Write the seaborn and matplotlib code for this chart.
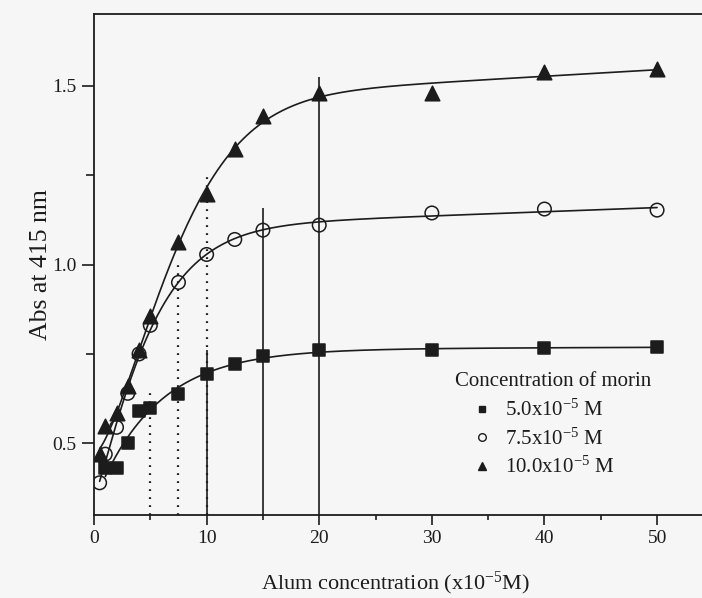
import numpy as np
import pandas as pd
import matplotlib
matplotlib.use("Agg")
import matplotlib.pyplot as plt
from matplotlib.lines import Line2D
import seaborn as sns

# Absorbance at 415 nm versus alum concentration (x10^-5 M)
alum_5 = [1, 2, 3, 4, 5, 7.5, 10, 12.5, 15, 20, 30, 40, 50]
abs_5 = [0.43, 0.43, 0.50, 0.59, 0.60, 0.638, 0.695, 0.723, 0.743, 0.76, 0.76, 0.766, 0.77]

alum_75 = [0.5, 1, 2, 3, 4, 5, 7.5, 10, 12.5, 15, 20, 30, 40, 50]
abs_75 = [0.39, 0.47, 0.545, 0.64, 0.75, 0.83, 0.95, 1.028, 1.07, 1.096, 1.11, 1.144, 1.155, 1.152]

alum_10 = [0.5, 1, 2, 3, 4, 5, 7.5, 10, 12.5, 15, 20, 30, 40, 50]
abs_10 = [0.47, 0.55, 0.585, 0.66, 0.76, 0.855, 1.062, 1.198, 1.322, 1.415, 1.48, 1.48, 1.537, 1.545]

series_labels = [r"5.0x10$^{-5}$ M", r"7.5x10$^{-5}$ M", r"10.0x10$^{-5}$ M"]

# Guide lines dropped from the curves to the x axis
dotted_x = [5, 7.5, 10]
dotted_top = [0.652, 1.0, 1.254]
solid_x = [10, 15, 20]
solid_top = [0.76, 1.158, 1.525]

x_ticks = [0, 10, 20, 30, 40, 50]
y_ticks = [0.5, 1.0, 1.5]


def saturation_curve(x, y, xs):
    """Weighted least-squares fit of y = a + b*(1 - exp(-(x/c)**p)) + d*x,
    evaluated at xs. Points below x = 3 get a reduced weight."""
    x = np.asarray(x, float)
    y = np.asarray(y, float)
    w = np.sqrt(np.where(x >= 3, 1.0, 0.3))
    best = None
    for c in np.linspace(1.0, 25.0, 121):
        for p in np.linspace(0.5, 3.0, 26):
            g = 1.0 - np.exp(-(x / c) ** p)
            m = np.column_stack([np.ones_like(x), g, x])
            coef = np.linalg.lstsq(m * w[:, None], y * w, rcond=None)[0]
            err = np.sum((w * (m @ coef - y)) ** 2)
            if best is None or err < best[0]:
                best = (err, c, p, coef)
    _, c, p, coef = best
    return coef[0] + coef[1] * (1.0 - np.exp(-(xs / c) ** p)) + coef[2] * xs


sns.set_theme(style="ticks")
plt.rcParams["font.family"] = ["Liberation Serif", "DejaVu Serif"]
plt.rcParams["mathtext.default"] = "regular"

ink = "#1c1c1c"
paper = "#f6f6f6"

fig = plt.figure(figsize=(7.02, 5.98), dpi=100, facecolor=paper)
ax = fig.add_axes([94 / 702, 83 / 598, 616 / 702, 501 / 598])
ax.set_facecolor(paper)

groups = [
    (alum_5, abs_5, "s", True),
    (alum_75, abs_75, "o", False),
    (alum_10, abs_10, "^", True),
]

for (xv, yv, mk, filled), lab in zip(groups, series_labels):
    xs = np.linspace(min(xv), max(xv), 300)
    ys = saturation_curve(xv, yv, xs)
    sns.lineplot(x=xs, y=ys, ax=ax, color=ink, linewidth=1.2, legend=False)

ax.vlines(dotted_x, 0.3, dotted_top, colors=ink, linewidth=1.6,
          linestyles=[(0, (0.8, 2.8))])
ax.vlines(solid_x, 0.3, solid_top, colors=ink, linewidth=1.2)

sizes = {"s": 85, "o": 95, "^": 110}
for (xv, yv, mk, filled), lab in zip(groups, series_labels):
    sns.scatterplot(x=xv, y=yv, ax=ax, marker=mk, s=sizes[mk], color=ink,
                    edgecolor=ink, linewidth=1.1, zorder=5, legend=False)
    if not filled:
        ax.collections[-1].set_facecolor("none")

ax.set_xlim(0, 54.7)
ax.set_ylim(0.3, 1.7)
ax.set_xticks(x_ticks)
ax.set_xticks([5, 15, 25, 35, 45], minor=True)
ax.set_yticks(y_ticks)
ax.set_yticks([0.75, 1.25], minor=True)
ax.set_xticklabels([str(t) for t in x_ticks])
ax.set_yticklabels([f"{t:.1f}" for t in y_ticks])

for side in ["left", "bottom", "top"]:
    ax.spines[side].set_linewidth(1.3)
    ax.spines[side].set_color(ink)
ax.spines["right"].set_visible(False)

ax.tick_params(axis="x", which="major", direction="out", length=7, width=1.2,
               color=ink, labelsize=14, labelcolor=ink, pad=4)
ax.tick_params(axis="x", which="minor", direction="out", length=3.5, width=1.2, color=ink)
ax.tick_params(axis="y", which="major", direction="out", length=9, width=1.2,
               color=ink, labelsize=14, labelcolor=ink, pad=3.5)
ax.tick_params(axis="y", which="minor", direction="out", length=5.5, width=1.2, color=ink)

ax.set_xlabel(r"Alum concentration (x10$^{-5}$M)", fontsize=16, color=ink)
ax.set_ylabel("Abs at 415 nm", fontsize=18.5, color=ink)
ax.xaxis.set_label_coords(0.49, -0.11)
ax.yaxis.set_label_coords(-0.068, 0.5)

fig.text(455 / 702, 1 - 382 / 598, "Concentration of morin", fontsize=15,
         color=ink, ha="left", va="center")
handles = [
    Line2D([], [], linestyle="none", marker="s", markersize=5, color=ink),
    Line2D([], [], linestyle="none", marker="o", markersize=5.5, markerfacecolor="none",
           markeredgecolor=ink, markeredgewidth=1.0),
    Line2D([], [], linestyle="none", marker="^", markersize=6, color=ink),
]
ax.legend(handles, series_labels, loc="upper left",
          bbox_to_anchor=(472 / 702, 1 - 400 / 598), bbox_transform=fig.transFigure,
          frameon=False, fontsize=15, handlelength=1.0, handletextpad=0.6,
          labelspacing=0.35, borderpad=0, borderaxespad=0, labelcolor=ink)

fig.savefig("out.png", dpi=100, facecolor=paper)
